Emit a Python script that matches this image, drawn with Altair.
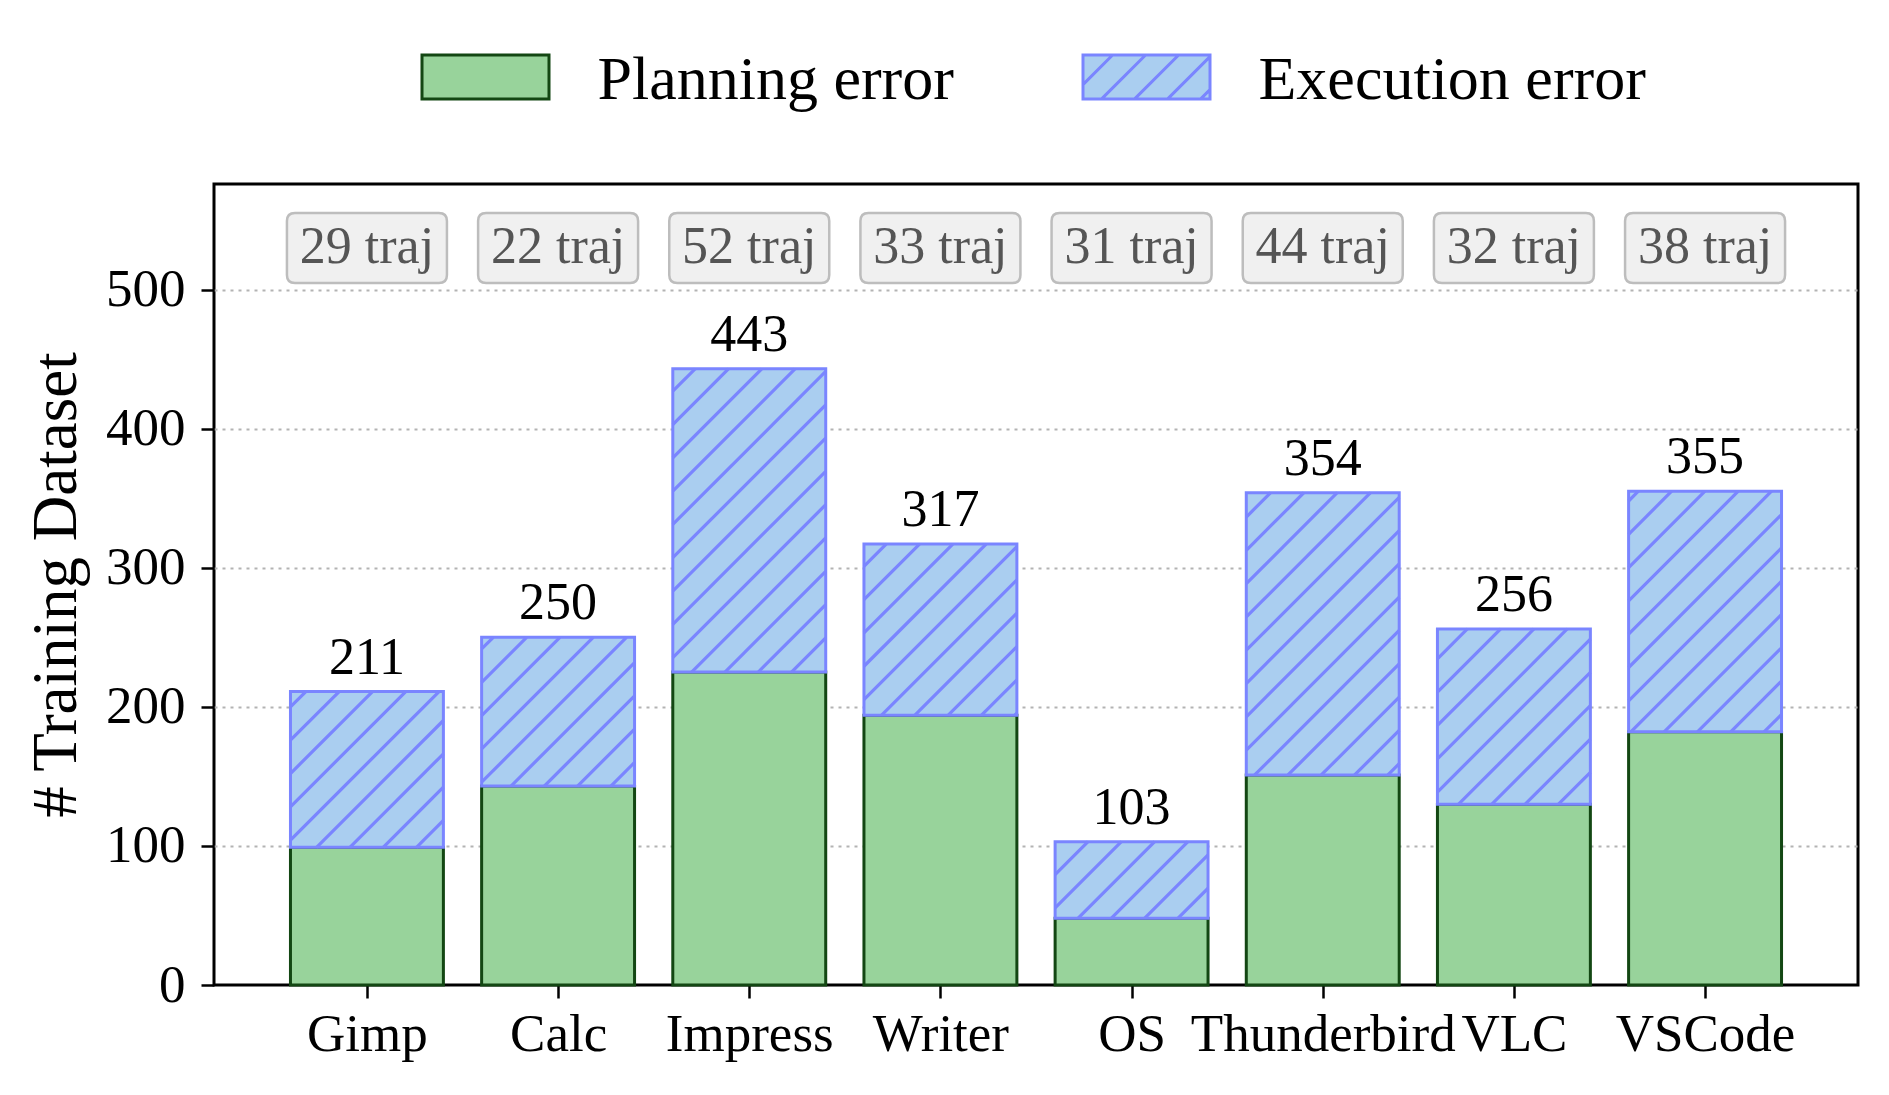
import json
import math
import altair as alt
import pandas as pd

# ---------------- data ----------------
apps = ["Gimp", "Calc", "Impress", "Writer", "OS", "Thunderbird", "VLC", "VSCode"]
planning = [99, 143, 225, 194, 48, 151, 130, 182]
totals = [211, 250, 443, 317, 103, 354, 256, 355]
trajs = [29, 22, 52, 33, 31, 44, 32, 38]
series = ["Planning error", "Execution error"]

# ---------------- style ----------------
FONT = "Liberation Serif"
GREEN_FILL = "#98D39B"
GREEN_EDGE = "#134713"
BLUE_FILL = "#AACEF0"
BLUE_EDGE = "#7A85FF"

W, H = 1644, 801
BAR_HALF = 0.4
XMIN, XMAX = -0.8, len(apps) - 0.2
YMAX = max(totals) * 1.3
TRAJ_Y = YMAX * 0.92
HATCH = 33.3  # px between hatch lines (horizontal)

idx = list(range(len(apps)))

rows = []
for i in idx:
    rows.append({"type": series[0], "x0": i - BAR_HALF, "x1": i + BAR_HALF,
                 "y0": 0, "y1": planning[i]})
for i in idx:
    rows.append({"type": series[1], "x0": i - BAR_HALF, "x1": i + BAR_HALF,
                 "y0": planning[i], "y1": totals[i]})
bars = pd.DataFrame(rows)

# hatch segments ("/" at 45 degrees in screen space), clipped to each execution bar
sx = W / (XMAX - XMIN)
sy = H / YMAX
segs = []
for i in idx:
    x0p = (i - BAR_HALF - XMIN) * sx
    x1p = (i + BAR_HALF - XMIN) * sx
    ytp = (YMAX - totals[i]) * sy
    ybp = (YMAX - planning[i]) * sy
    kmin = math.floor((x0p + ytp) / HATCH)
    kmax = math.ceil((x1p + ybp) / HATCH)
    for k in range(kmin, kmax + 1):
        c = k * HATCH
        xa = max(x0p, c - ybp)
        xb = min(x1p, c - ytp)
        if xb - xa > 0.5:
            segs.append({"hx": xa / sx + XMIN, "hy": YMAX - (c - xa) / sy,
                         "hx2": xb / sx + XMIN, "hy2": YMAX - (c - xb) / sy})
hatch = pd.DataFrame(segs)

labels = pd.DataFrame({
    "idx": idx,
    "total": totals,
    "ty": [TRAJ_Y] * len(apps),
    "traj": [f"{t} traj" for t in trajs],
})

# legend symbol paths (shifted up slightly so the labels sit a bit lower)
HH = 0.346
DY = -0.04
PLAIN = f"M-1,{-HH + DY:.3f}L1,{-HH + DY:.3f}L1,{HH + DY:.3f}L-1,{HH + DY:.3f}Z"
hp = PLAIN
step_u = 0.52
k = -6
while True:
    c = 0.16 + k * step_u
    k += 1
    if c > 1 + HH:
        break
    xa = max(-1, c - HH)
    xb = min(1, c + HH)
    if xb - xa > 0.02:
        hp += f"M{xa:.3f},{c - xa + DY:.3f}L{xb:.3f},{c - xb + DY:.3f}"
HATCHED = hp

R = 0.1
BH = 0.4375
BOX = (f"M{-1 + R},{-BH}L{1 - R},{-BH}Q1,{-BH} 1,{-BH + R}L1,{BH - R}"
       f"Q1,{BH} {1 - R},{BH}L{-1 + R},{BH}Q-1,{BH} -1,{BH - R}"
       f"L-1,{-BH + R}Q-1,{-BH} {-1 + R},{-BH}Z")

# ---------------- chart ----------------
xs = alt.Scale(domain=[XMIN, XMAX], nice=False, zero=False)
ys = alt.Scale(domain=[0, YMAX], nice=False, zero=False)

xaxis = alt.Axis(values=idx, labelExpr=json.dumps(apps) + "[datum.value]", title=None,
                 grid=False, domain=False, tickSize=13, tickWidth=2.5, tickColor="black",
                 labelFont=FONT, labelFontSize=53, labelColor="black", labelPadding=10,
                 labelOverlap=False, labelFlush=False, labelBound=False, labelLimit=1000)
yaxis = alt.Axis(values=[0, 100, 200, 300, 400, 500], format="d", title="# Training Dataset",
                 titleFont=FONT, titleFontSize=63, titleFontWeight="normal", titleColor="black",
                 titleX=-139, titleBaseline="alphabetic",
                 grid=True, gridDash=[3, 5], gridColor="#b3b3b3", gridWidth=2,
                 gridOpacity={"condition": {"test": "datum.value === 0", "value": 0}, "value": 1},
                 domain=False, tickSize=13, tickWidth=2.5, tickColor="black",
                 labelFont=FONT, labelFontSize=53, labelColor="black", labelPadding=16)

leg = alt.Legend(title=None, orient="none", legendX=206.5, legendY=-169.5,
                 direction="horizontal", columns=2, symbolSize=127 * 127,
                 symbolStrokeWidth=3, labelFont=FONT, labelFontSize=62, labelColor="black",
                 labelOffset=47, columnPadding=122, labelLimit=1000, symbolOpacity=1)

fill_scale = alt.Scale(domain=series, range=[GREEN_FILL, BLUE_FILL])
stroke_scale = alt.Scale(domain=series, range=[GREEN_EDGE, BLUE_EDGE])

bar_layer = alt.Chart(bars).mark_rect(strokeWidth=3).encode(
    x=alt.X("x0:Q", scale=xs, axis=xaxis),
    x2="x1:Q",
    y=alt.Y("y0:Q", scale=ys, axis=yaxis),
    y2="y1:Q",
    fill=alt.Fill("type:N", scale=fill_scale, legend=leg),
    stroke=alt.Stroke("type:N", scale=stroke_scale, legend=leg),
)

hatch_layer = alt.Chart(hatch).mark_rule(color=BLUE_EDGE, strokeWidth=3.2).encode(
    x=alt.X("hx:Q", scale=xs), x2="hx2:Q",
    y=alt.Y("hy:Q", scale=ys), y2="hy2:Q",
)

box_layer = alt.Chart(labels).mark_point(
    shape=BOX, size=160 * 160, filled=True, fill="#f0f0f0", stroke="#bdbdbd",
    strokeWidth=2.5, opacity=1
).encode(x=alt.X("idx:Q", scale=xs), y=alt.Y("ty:Q", scale=ys))

traj_text = alt.Chart(labels).mark_text(
    font=FONT, fontSize=52, color="#555555", baseline="alphabetic", dy=15
).encode(x=alt.X("idx:Q", scale=xs), y=alt.Y("ty:Q", scale=ys), text="traj:N")

val_text = alt.Chart(labels).mark_text(
    font=FONT, fontSize=52, color="black", baseline="alphabetic", dy=-18
).encode(x=alt.X("idx:Q", scale=xs), y=alt.Y("total:Q", scale=ys), text="total:Q")

leg_df = pd.DataFrame({"type": series, "nx": [None, None]})
legend_layer = alt.Chart(leg_df).mark_point(filled=True, opacity=1, strokeWidth=3).encode(
    x=alt.X("nx:Q", scale=xs), y=alt.Y("nx:Q", scale=ys),
    fill=alt.Fill("type:N", scale=fill_scale, legend=leg),
    stroke=alt.Stroke("type:N", scale=stroke_scale, legend=leg),
    shape=alt.Shape("type:N", scale=alt.Scale(domain=series, range=[PLAIN, HATCHED]), legend=leg),
)

chart = alt.layer(bar_layer, hatch_layer, box_layer, traj_text, val_text, legend_layer).properties(
    width=W, height=H,
    autosize=alt.AutoSizeParams(type="none"),
    padding={"left": 206, "top": 176, "right": 23, "bottom": 95},
    background="white",
).configure(font=FONT).configure_view(stroke="black", strokeWidth=3)

chart.save("out.html", embed_options={"renderer": "svg", "actions": False})
